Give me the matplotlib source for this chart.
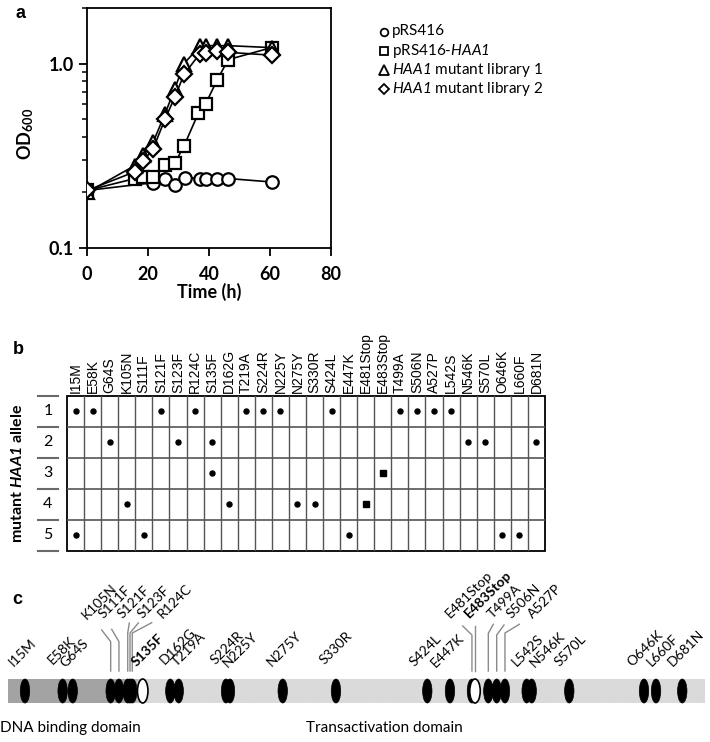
import matplotlib
matplotlib.use("Agg")
import matplotlib.pyplot as plt
from matplotlib.patches import Ellipse, Rectangle
from matplotlib.ticker import FixedLocator, FixedFormatter, NullFormatter, LogLocator
import numpy as np

plt.rcParams["font.family"] = ["Lato", "DejaVu Sans"]
plt.rcParams["mathtext.fontset"] = "custom"
plt.rcParams["mathtext.rm"] = "Lato"
plt.rcParams["mathtext.it"] = "Lato:italic"
plt.rcParams["mathtext.sf"] = "Lato:italic"
plt.rcParams["mathtext.bf"] = "Lato:bold"
plt.rcParams["mathtext.bfit"] = "Lato:italic:bold"

# ---------------- Panel a data ----------------
time_pRS416 = [0, 21.7, 25.6, 28.8, 32.1, 37, 38.9, 42.7, 46.3, 60.5]
od_pRS416 = [0.205, 0.226, 0.237, 0.219, 0.241, 0.238, 0.238, 0.238, 0.238, 0.228]
time_haa1 = [0, 15.7, 18.5, 21.7, 25.6, 28.8, 31.8, 36.5, 38.9, 42.7, 46.3, 60.5]
od_haa1 = [0.205, 0.238, 0.243, 0.243, 0.281, 0.289, 0.357, 0.538, 0.605, 0.816, 1.05, 1.22]
time_lib = [0, 15.7, 18.5, 21.7, 25.6, 28.8, 31.8, 37, 39, 42.7, 46.3, 60.5]
od_lib1 = [0.200, 0.28, 0.318, 0.375, 0.535, 0.73, 1.0, 1.24, 1.25, 1.25, 1.25, 1.22]
od_lib2 = [0.205, 0.259, 0.296, 0.346, 0.50, 0.658, 0.873, 1.13, 1.14, 1.17, 1.15, 1.11]
series_labels = ["pRS416", r"pRS416-$\mathsf{HAA1}$",
                 r"$\mathsf{HAA1}$ mutant library 1", r"$\mathsf{HAA1}$ mutant library 2"]
x_ticks = [0, 20, 40, 60, 80]
y_ticks = [0.1, 1.0]
y_ticklabels = ["0.1", "1.0"]

# ---------------- Panel b data ----------------
mutations = ["I15M", "E58K", "G64S", "K105N", "S111F", "S121F", "S123F", "R124C",
             "S135F", "D162G", "T219A", "S224R", "N225Y", "N275Y", "S330R", "S424L",
             "E447K", "E481Stop", "E483Stop", "T499A", "S506N", "A527P", "L542S",
             "N546K", "S570L", "O646K", "L660F", "D681N"]
allele_1 = ["I15M", "E58K", "S121F", "R124C", "T219A", "S224R", "N225Y", "S424L",
            "T499A", "S506N", "A527P", "L542S"]
allele_2 = ["G64S", "S123F", "S135F", "N546K", "S570L", "D681N"]
allele_3 = ["S135F", "E483Stop"]
allele_4 = ["K105N", "D162G", "N275Y", "S330R", "E481Stop"]
allele_5 = ["I15M", "S111F", "E447K", "O646K", "L660F"]
alleles = [allele_1, allele_2, allele_3, allele_4, allele_5]
allele_names = ["1", "2", "3", "4", "5"]

# ---------------- Panel c data ----------------
# residue position of each marker as drawn on the protein map
drawn_pos = [15.0, 53.2, 63.4, 101.9, 110.3, 119.2, 121.5, 123.8, 134.4, 162.4,
             170.9, 218.9, 222.9, 276.4, 330.4, 423.0, 446.0, 468.3, 471.4, 484.9,
             493.4, 501.8, 523.8, 528.9, 567.0, 642.8, 655.0, 681.6]
open_marks = ["S135F", "E483Stop"]
protein_start, protein_end = -2.2, 703.7
dna_binding_end = 120

W, H = 710, 742
fig = plt.figure(figsize=(W / 100, H / 100), dpi=100)


def px_axes(l, t, r, b):
    return fig.add_axes([l / W, 1 - b / H, (r - l) / W, (b - t) / H])


ov = fig.add_axes([0, 0, 1, 1])
ov.set_xlim(0, W)
ov.set_ylim(H, 0)
ov.set_autoscale_on(False)
ov.axis("off")

# ================= Panel a =================
axA = px_axes(87, 8, 331, 248)
mk = dict(mfc="white", mec="black", mew=1.6, color="black", lw=1.2)
axA.plot(time_pRS416, od_pRS416, marker="o", ms=9, **mk, zorder=3)
axA.plot(time_haa1, od_haa1, marker="s", ms=8.5, **mk, zorder=4)
axA.plot(time_lib, od_lib1, marker="^", ms=10.5, **mk, zorder=5)
axA.plot(time_lib, od_lib2, marker="D", ms=8.5, **mk, zorder=6)
axA.set_yscale("log")
axA.set_xlim(0, 80)
axA.set_ylim(0.1, 2.0)
axA.xaxis.set_major_locator(FixedLocator(x_ticks))
axA.yaxis.set_major_locator(FixedLocator(y_ticks))
axA.yaxis.set_major_formatter(FixedFormatter(y_ticklabels))
axA.yaxis.set_minor_locator(LogLocator(base=10, subs=np.arange(2, 10)))
axA.yaxis.set_minor_formatter(NullFormatter())
axA.tick_params(which="major", direction="out", length=6, width=1.3, labelsize=13)
axA.tick_params(axis="x", which="major", pad=7)
axA.tick_params(which="minor", direction="out", length=3.5, width=1.1)
for lbl in axA.get_xticklabels() + axA.get_yticklabels():
    lbl.set_fontweight("bold")
for s in axA.spines.values():
    s.set_linewidth(1.3)
ov.text(209, 292, "Time (h)", ha="center", va="center", fontsize=13, fontweight="bold")
ov.text(26, 134, r"OD$_{\mathbf{600}}$", ha="center", va="center", rotation=90,
        fontsize=13, fontweight="bold")

# legend (manual)
leg_markers = [("o", 5.5), ("s", 5.5), ("^", 6.5), ("D", 5)]
for i, (lab, (m, ms)) in enumerate(zip(series_labels, leg_markers)):
    y = 31.5 + i * 19.3
    ov.plot([384], [y], marker=m, ms=ms, mfc="white", mec="black", mew=1.3, ls="none")
    ov.text(392, y, lab, ha="left", va="center", fontsize=11)

# ================= Panel b =================
axB = px_axes(67, 395.5, 545, 551)
ncol = len(mutations)
axB.set_xlim(0, ncol)
axB.set_ylim(len(alleles), 0)
axB.axis("off")
for i in range(1, ncol):
    axB.plot([i, i], [0, len(alleles)], color="#555555", lw=1.0)
for j in range(1, len(alleles)):
    axB.plot([0, ncol], [j, j], color="#555555", lw=1.2)
axB.add_patch(Rectangle((0, 0), ncol, len(alleles), fill=False, ec="black", lw=1.3,
                        clip_on=False))
for i, m in enumerate(mutations):
    axB.text(i + 0.5, -0.08, m, rotation=90, ha="center", va="bottom",
             family=["Liberation Sans"], fontsize=10)
for r, allele in enumerate(alleles):
    for m in allele:
        c = mutations.index(m)
        if "Stop" in m:
            axB.plot(c + 0.5, r + 0.5, marker="s", ms=4.2, color="black", ls="none")
        else:
            axB.plot(c + 0.5, r + 0.5, marker="o", ms=3.6, color="black", ls="none")
    axB.text(-1.12, r + 0.5, allele_names[r], ha="center", va="center", fontsize=11.5)
for j in range(len(alleles) + 1):
    axB.plot([-1.7, -0.53], [j, j], color="#6a6a6a", lw=1.5, clip_on=False)
ov.text(18, 473, r"mutant $\mathbfit{HAA1}$ allele", rotation=90, ha="center",
        va="center", fontsize=11.5, fontweight="bold")

# ================= Panel c =================
PX0, PXS = 10.2, 0.986


def res(px):
    return (px - PX0) / PXS


axC = px_axes(0, 580, W, H)
axC.set_xlim(res(0), res(W))
axC.set_ylim(H, 580)
axC.set_autoscale_on(False)
axC.axis("off")

xs = np.linspace(protein_start, protein_end, 700)
shade = np.interp(xs, [dna_binding_end, dna_binding_end + 20], [0.64, 0.855])
axC.imshow(shade[None, :], cmap="gray", vmin=0, vmax=1, aspect="auto",
           extent=(protein_start, protein_end, 703, 679), zorder=1)

for m, p in zip(mutations, drawn_pos):
    if m not in open_marks:
        axC.add_patch(Ellipse((p, 691), width=9.4 / PXS, height=24, fc="black",
                              ec="black", lw=0.5, zorder=3))
for m, p in zip(mutations, drawn_pos):
    if m in open_marks:
        axC.add_patch(Ellipse((p, 691), width=10.5 / PXS, height=24, fc="white",
                              ec="black", lw=1.2, zorder=4))

# label anchors (pixels) - layout
label_anchor = {
    "I15M": (14, 667), "E58K": (53, 665), "G64S": (65, 668), "S135F": (137, 667),
    "D162G": (165, 665), "T219A": (177, 667), "S224R": (216, 665), "N225Y": (228, 668),
    "N275Y": (272, 667), "S330R": (325, 665), "S424L": (415, 667), "E447K": (436, 668),
    "L542S": (517, 667), "N546K": (535, 668), "S570L": (560, 667), "O646K": (632, 667),
    "L660F": (652, 667), "D681N": (673, 667),
    "K105N": (87, 620), "S111F": (104, 619), "S121F": (123, 619), "S123F": (143, 619),
    "R124C": (163, 619), "E481Stop": (450, 619), "E483Stop": (469, 619),
    "T499A": (493, 619), "S506N": (512, 619), "A527P": (533, 619),
}
# leader lines: (bend_y, end_x, end_y) in pixels
leaders = {
    "K105N": (641.7, 101.7, 630), "S111F": (641.7, 111.7, 629.3),
    "S121F": (633, 129.3, 623), "S123F": (633, 138.3, 623), "R124C": (633, 151.7, 622.7),
    "E481Stop": (635, 462.7, 626), "E483Stop": (626, 474.7, 626),
    "T499A": (633.3, 493.3, 624.3), "S506N": (635, 504, 625), "A527P": (633, 519.3, 624.3),
}
for m, p in zip(mutations, drawn_pos):
    ax_, ay_ = label_anchor[m]
    axC.text(res(ax_), ay_, m, rotation=45, rotation_mode="anchor", ha="left",
             va="baseline", fontsize=10,
             fontweight="bold" if m in open_marks else "normal", zorder=5)
    if m in leaders:
        by, ex, ey = leaders[m]
        axC.plot([p, p, res(ex)], [671, by, ey], color="#8a8a8a", lw=1.0, zorder=2)

ov.text(0, 728, "DNA binding domain", ha="left", va="center", fontsize=11)
ov.text(306, 728, "Transactivation domain", ha="left", va="center", fontsize=11)

# panel letters
for ch, (x, y) in zip("abc", [(15, 14), (13, 349), (12, 600)]):
    ov.text(x, y, ch, ha="left", va="center", fontsize=13, fontweight="bold",
            family=["Liberation Sans"])

fig.savefig("out.png", dpi=100)
